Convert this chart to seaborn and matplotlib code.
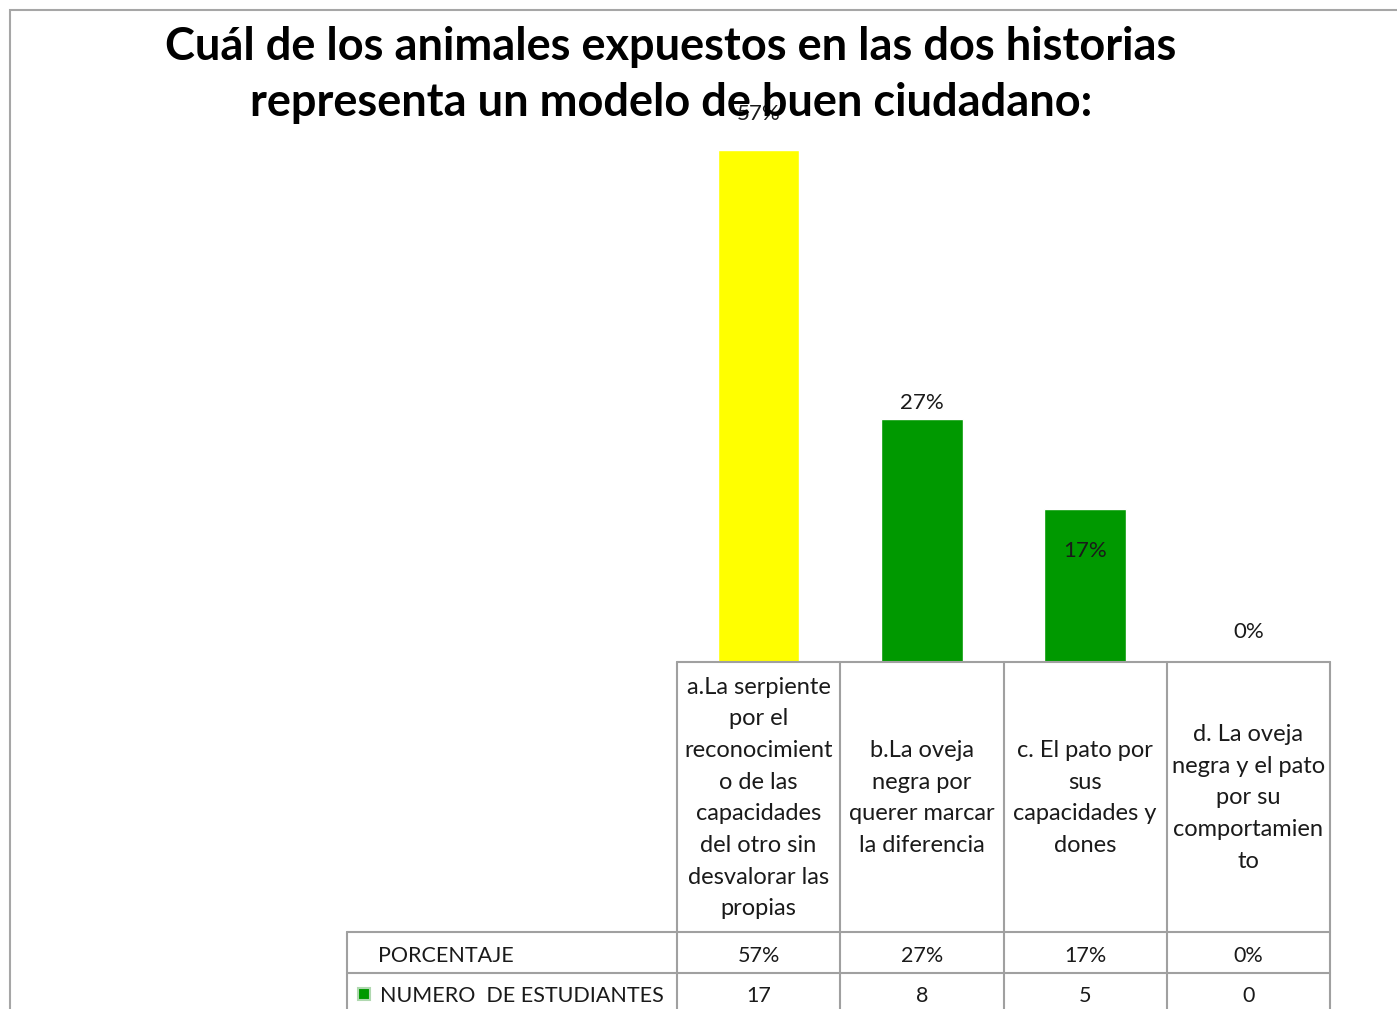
import matplotlib
matplotlib.use('Agg')
import matplotlib.pyplot as plt
import seaborn as sns
import pandas as pd
from matplotlib.lines import Line2D
from matplotlib.patches import Rectangle

# data
titulo = 'Cuál de los animales expuestos en las dos historias\nrepresenta un modelo de buen ciudadano:'
categorias = [
    'a.La serpiente\npor el\nreconocimient\no de las\ncapacidades\ndel otro sin\ndesvalorar las\npropias',
    'b.La oveja\nnegra por\nquerer marcar\nla diferencia',
    'c. El pato por\nsus\ncapacidades y\ndones',
    'd. La oveja\nnegra y el pato\npor su\ncomportamien\nto',
]
porcentaje = [57, 27, 17, 0]
num_estudiantes = [17, 8, 5, 0]
colores = ['#FFFF00', '#009900', '#009900', '#009900']
fila_pct = 'PORCENTAJE'
fila_num = 'NUMERO  DE ESTUDIANTES'

W, H = 1397, 1009
sns.set_theme(style='white')
plt.rcParams['font.family'] = ['Lato', 'DejaVu Sans']

fig = plt.figure(figsize=(W / 100, H / 100), dpi=100)

# chart frame
fig.patches.append(Rectangle((10 / W, -0.1), 1.2, 1 - 10 / H + 0.1, transform=fig.transFigure,
                             fill=False, edgecolor='#A6A6A6', linewidth=1.5))

# plot area in pixels
px_left, px_right, px_base, px_top = 677, 1330, 662, 123
ax = fig.add_axes([px_left / W, 1 - px_base / H, (px_right - px_left) / W, (px_base - px_top) / H])
df = pd.DataFrame({'cat': range(len(categorias)), 'pct': porcentaje})
sns.barplot(data=df, x='cat', y='pct', hue='cat', palette=colores, legend=False,
            width=0.5, ax=ax, saturation=1)
ax.set_ylim(0, 60)
ax.set_xlim(-0.5, len(categorias) - 0.5)
ax.axis('off')

# data labels (offsets in px as in the original chart)
offsets = [36, 16, -42, 30]
for i, (v, off) in enumerate(zip(porcentaje, offsets)):
    ax.annotate(f'{v}%', (i, v), xytext=(0, off * 0.72), textcoords='offset points',
                ha='center', va='center', fontsize=16, color='#1a1a1a')

# overlay in pixel coordinates for title and data table
ov = fig.add_axes([0, 0, 1, 1], zorder=3)
ov.set_xlim(0, W)
ov.set_ylim(H, 0)
ov.axis('off')
ov.patch.set_alpha(0)

ov.text(671, 75, titulo, ha='center', va='center', fontsize=32.5, fontweight='bold',
        linespacing=1.42, color='black')

col_w = (px_right - px_left) / len(categorias)
edges = [px_left + i * col_w for i in range(len(categorias) + 1)]
label_left = 347
y_cat_bottom, y_pct_bottom, y_num_bottom = 932, 973, 1014
grid = dict(color='#A0A0A0', linewidth=1.5)

ov.add_line(Line2D([px_left, px_right], [px_base, px_base], **grid))
for yy in (y_cat_bottom, y_pct_bottom, y_num_bottom):
    ov.add_line(Line2D([label_left, px_right], [yy, yy], **grid))
for xx in edges:
    ov.add_line(Line2D([xx, xx], [px_base, y_num_bottom], **grid))
ov.add_line(Line2D([label_left, label_left], [y_cat_bottom, y_num_bottom], **grid))

for i, txt in enumerate(categorias):
    cx = (edges[i] + edges[i + 1]) / 2
    ov.text(cx, (px_base + y_cat_bottom) / 2 + 1, txt, ha='center', va='center',
            fontsize=17, linespacing=1.63, color='#1a1a1a')
    ov.text(cx, (y_cat_bottom + y_pct_bottom) / 2 + 3, f'{porcentaje[i]}%', ha='center',
            va='center', fontsize=15.5, color='#1a1a1a')
    ov.text(cx, (y_pct_bottom + y_num_bottom) / 2 + 2, str(num_estudiantes[i]), ha='center',
            va='center', fontsize=15.5, color='#1a1a1a')

ov.text(378, (y_cat_bottom + y_pct_bottom) / 2 + 3, fila_pct, ha='left', va='center',
        fontsize=15.5, color='#1a1a1a')
ov.add_patch(Rectangle((358, 988), 12, 12, facecolor='#009900', edgecolor='#B0D8B0', linewidth=1.5))
ov.text(380, (y_pct_bottom + y_num_bottom) / 2 + 2, fila_num, ha='left', va='center',
        fontsize=15.5, color='#1a1a1a')

fig.savefig('out.png', dpi=100)
